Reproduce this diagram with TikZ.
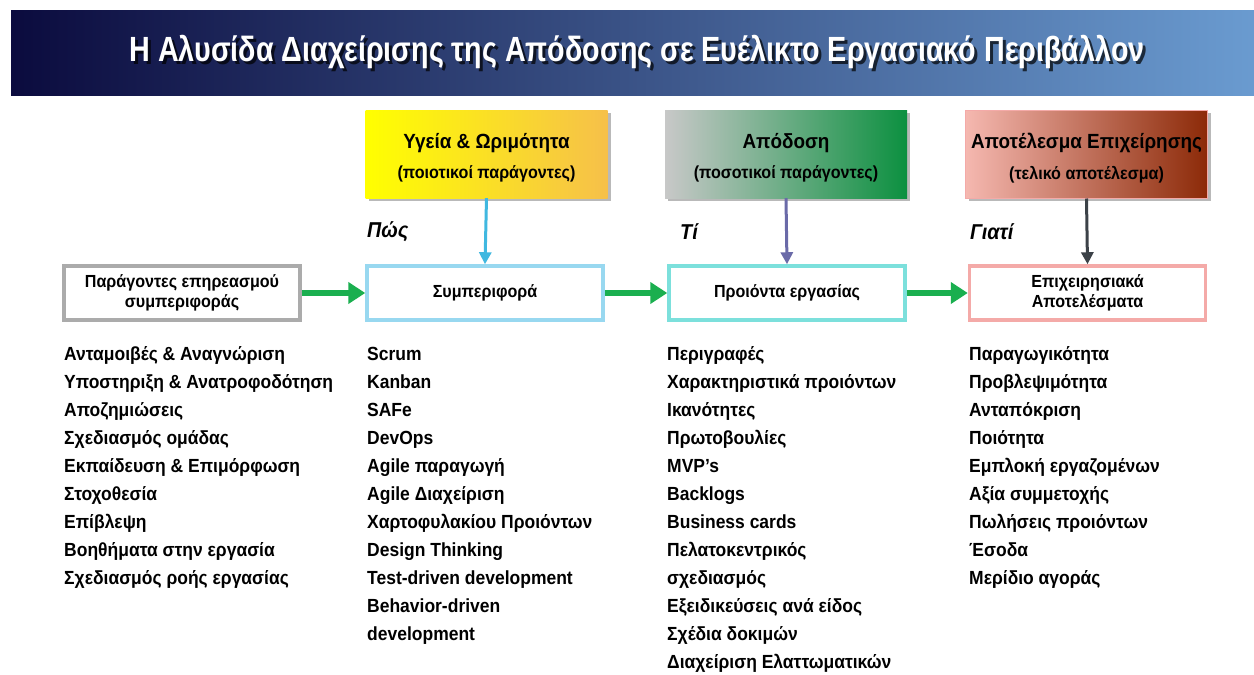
\documentclass[tikz,border=0pt]{standalone}
\usepackage{fontspec}
\setmainfont{Liberation Sans}[FakeStretch=0.92]
\newfontfamily\headfont{Liberation Sans}[FakeStretch=0.82]
\usetikzlibrary{shadows,arrows.meta}

\definecolor{bannerL}{HTML}{0B0B3E}
\definecolor{bannerR}{HTML}{6A9BD0}
\definecolor{yelL}{HTML}{FFFF00}
\definecolor{yelR}{HTML}{F6C04A}
\definecolor{grnL}{HTML}{C8C8C8}
\definecolor{grnR}{HTML}{0C9040}
\definecolor{brnL}{HTML}{F5B8B0}
\definecolor{brnR}{HTML}{8C2A08}
\definecolor{arrCyan}{HTML}{40B8E0}
\definecolor{arrPurple}{HTML}{6A6AA8}
\definecolor{arrDark}{HTML}{3C4248}
\definecolor{edgeGray}{HTML}{ABABAB}
\definecolor{edgeCyan}{HTML}{98D8F0}
\definecolor{edgeTeal}{HTML}{7CE0DC}
\definecolor{edgePink}{HTML}{F4AAA8}
\definecolor{flowGreen}{HTML}{1AAF4F}

\tikzset{
  topbox/.style={minimum width=242pt, minimum height=88pt,
    inner sep=0pt, drop shadow={shadow xshift=3pt, shadow yshift=-3pt, opacity=0.55}},
  toptext/.style={align=center, inner sep=0pt},
  midbox/.style={draw, line width=3.5pt, fill=white, minimum width=236pt,
    minimum height=54pt, align=center, inner sep=0pt,
    font=\bfseries\fontsize{17.5}{20}\selectfont},
  downarrow/.style={line width=3pt, -{Triangle[length=12pt,width=12pt]}},
  flow/.style={line width=6.5pt, draw=flowGreen,
    -{Triangle[length=17pt,width=21pt]}},
  why/.style={anchor=west, inner sep=0pt,
    font=\bfseries\itshape\fontsize{21.5}{24}\selectfont},
  item/.style={anchor=base west, inner sep=0pt,
    font=\bfseries\fontsize{19}{22}\selectfont}
}

\newcommand{\boxhead}[2]{{\fontsize{20.5}{24}\selectfont #1}\\[12pt]{\fontsize{17.5}{20}\selectfont #2}}

\begin{document}
\begin{tikzpicture}[x=1pt, y=-1pt, font=\bfseries]
\useasboundingbox (0,0) rectangle (1254,675);
\fill[white] (0,0) rectangle (1254,675);

% title banner with a dark offset copy of the heading as its shadow
\shade[left color=bannerL, right color=bannerR] (11,10) rectangle (1254,95);
\node[text=black, opacity=0.7, font=\headfont\bfseries\fontsize{35}{40}\selectfont] (titleshade) at (640,55)
  {Η Αλυσίδα Διαχείρισης της Απόδοσης σε Ευέλικτο Εργασιακό Περιβάλλον};
\node[text=white, font=\headfont\bfseries\fontsize{35}{40}\selectfont] (title) at (637,52)
  {Η Αλυσίδα Διαχείρισης της Απόδοσης σε Ευέλικτο Εργασιακό Περιβάλλον};

% measures
\node[topbox, left color=yelL, right color=yelR] (health) at (486.5,154) {};
\node[topbox, left color=grnL, right color=grnR] (perf) at (786,154) {};
\node[topbox, left color=brnL, right color=brnR, draw=edgePink, line width=1pt] (biz) at (1086.5,154) {};
\node[toptext] (healthtxt) at ([yshift=-4pt]health.center)
  {\boxhead{Υγεία \& Ωριμότητα}{(ποιοτικοί παράγοντες)}};
\node[toptext] (perftxt) at ([yshift=-4pt]perf.center)
  {\boxhead{Απόδοση}{(ποσοτικοί παράγοντες)}};
\node[toptext] (biztxt) at ([yshift=-4pt]biz.center)
  {\boxhead{Αποτέλεσμα Επιχείρησης}{(τελικό αποτέλεσμα)}};

% chain
\node[midbox, draw=edgeGray] (factors) at (182,293) {Παράγοντες επηρεασμού\\συμπεριφοράς};
\node[midbox, draw=edgeCyan] (behav) at (485,293) {Συμπεριφορά};
\node[midbox, draw=edgeTeal] (outputs) at (787,293) {Προιόντα εργασίας};
\node[midbox, draw=edgePink] (results) at (1087.5,293) {Επιχειρησιακά\\Αποτελέσματα};

\draw[flow] (factors.east) -- (behav.west);
\draw[flow] (behav.east) -- (outputs.west);
\draw[flow] (outputs.east) -- (results.west);

\draw[downarrow, draw=arrCyan, fill=arrCyan] (health.south) -- (behav.north);
\draw[downarrow, draw=arrPurple, fill=arrPurple] (perf.south) -- (outputs.north);
\draw[downarrow, draw=arrDark, fill=arrDark] (biz.south) -- (results.north);

\node[why] (how) at (367,232) {Πώς};
\node[why] (what) at (680,232) {Τί};
\node[why] (whyl) at (970,232) {Γιατί};

% lists
\foreach \t [count=\i] in {Ανταμοιβές \& Αναγνώριση, Υποστηριξη \& Ανατροφοδότηση,
  Αποζημιώσεις, Σχεδιασμός ομάδας, Εκπαίδευση \& Επιμόρφωση, Στοχοθεσία,
  Επίβλεψη, Βοηθήματα στην εργασία, Σχεδιασμός ροής εργασίας}
  \node[item] (fa\i) at (64,{360+28*(\i-1)}) {\t};

\foreach \t [count=\i] in {Scrum, Kanban, SAFe, DevOps, Agile παραγωγή,
  Agile Διαχείριση, Χαρτοφυλακίου Προιόντων, Design Thinking,
  Test-driven development, Behavior-driven, development}
  \node[item] (be\i) at (367,{360+28*(\i-1)}) {\t};

\foreach \t [count=\i] in {Περιγραφές, Χαρακτηριστικά προιόντων, Ικανότητες,
  Πρωτοβουλίες, MVP's, Backlogs, Business cards, Πελατοκεντρικός,
  σχεδιασμός, Εξειδικεύσεις ανά είδος, Σχέδια δοκιμών, Διαχείριση Ελαττωματικών}
  \node[item] (ou\i) at (667,{360+28*(\i-1)}) {\t};

\foreach \t [count=\i] in {Παραγωγικότητα, Προβλεψιμότητα, Ανταπόκριση, Ποιότητα,
  Εμπλοκή εργαζομένων, Αξία συμμετοχής, Πωλήσεις προιόντων, Έσοδα, Μερίδιο αγοράς}
  \node[item] (re\i) at (969,{360+28*(\i-1)}) {\t};
\end{tikzpicture}
\end{document}
